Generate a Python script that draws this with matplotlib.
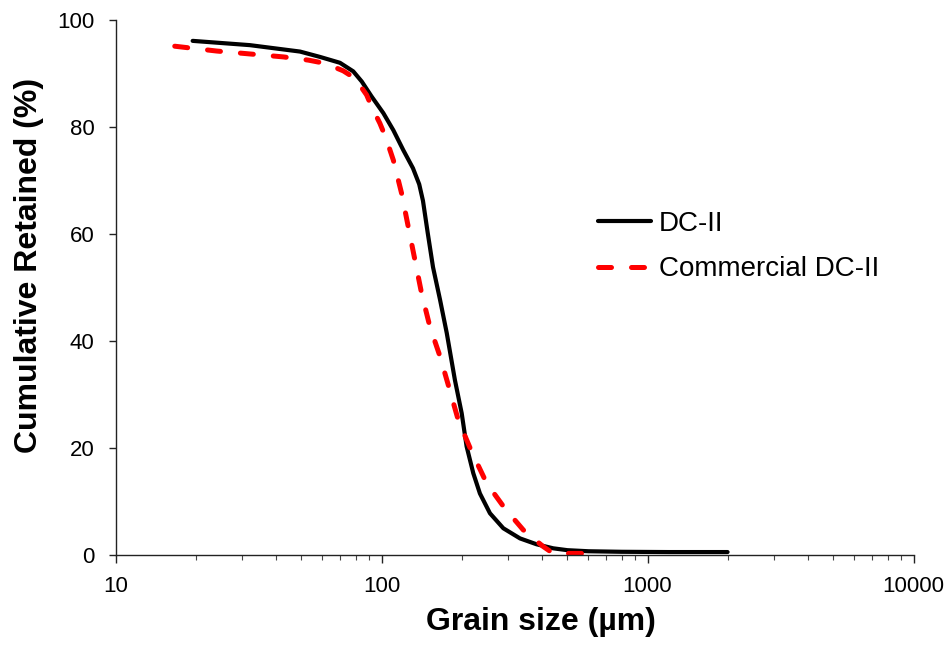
import matplotlib
matplotlib.use("Agg")
import matplotlib.pyplot as plt
from matplotlib.ticker import LogLocator, FixedLocator, NullFormatter

plt.rcParams['font.family'] = ['Liberation Sans', 'DejaVu Sans']

# DC-II (grain size in µm, cumulative retained %)
dc_size = [19.5, 32.0, 49.4, 58.7, 69.8, 78.3, 84.3, 91.8, 101.6, 110.8, 120.7, 131.3,
           138.6, 143.2, 149.2, 156.2, 166, 175.9, 188.8, 200.2, 208.9, 221.3, 234.4,
           255.7, 287, 331.7, 383, 442, 500, 600, 800, 1200, 2000]
dc_ret = [96.1, 95.3, 94.1, 93.1, 92.0, 90.4, 88.5, 85.7, 82.6, 79.4, 75.7, 72.3,
          69.3, 66.2, 60.2, 53.8, 47.7, 41.5, 32.7, 26.5, 20.3, 15.3, 11.5,
          7.8, 5.0, 3.1, 2.0, 1.25, 0.9, 0.7, 0.6, 0.55, 0.55]

# Commercial DC-II
com_size = [16.7, 24.0, 42.8, 53.1, 61.3, 71.8, 79.5, 87.9, 91.8, 98.6, 104, 110.8,
            119, 126, 133.6, 141.5, 152, 166, 178.2, 194.4, 218.3, 248.6, 291, 341,
            405, 442, 644]
com_ret = [95.1, 94.2, 93.1, 92.5, 91.9, 90.5, 89.1, 86.0, 83.8, 80.7, 77.9, 73.8,
           67.6, 61.4, 55.1, 48.9, 42.7, 37.1, 31.8, 25.2, 19.3, 13.4, 8.7, 4.7,
           1.6, 0.3, 0.3]

labels = ["DC-II", "Commercial DC-II"]
y_ticks = [0, 20, 40, 60, 80, 100]
x_ticks = [10, 100, 1000, 10000]
x_ticklabels = ["10", "100", "1000", "10000"]

fig = plt.figure(figsize=(9.52, 6.53), dpi=100)
ax = fig.add_axes([115.5 / 952, (653 - 555) / 653, (913.5 - 115.5) / 952, 535 / 653])

ax.plot(dc_size, dc_ret, color='black', lw=3.0, solid_capstyle='round',
        solid_joinstyle='round', label=labels[0])
ax.plot(com_size, com_ret, color='#ff0000', lw=3.6, dashes=(2.6, 4.0),
        dash_capstyle='round', dash_joinstyle='round', label=labels[1])

ax.set_xscale('log')
ax.set_xlim(10, 10000)
ax.set_ylim(0, 100)
ax.xaxis.set_major_locator(FixedLocator(x_ticks))
ax.set_xticklabels(x_ticklabels)
ax.xaxis.set_minor_locator(LogLocator(base=10, subs=range(2, 10)))
ax.xaxis.set_minor_formatter(NullFormatter())
ax.set_yticks(y_ticks)

for s in ['top', 'right']:
    ax.spines[s].set_visible(False)
for s in ['left', 'bottom']:
    ax.spines[s].set_linewidth(1.0)
    ax.spines[s].set_color('#222222')

ax.tick_params(axis='x', which='major', direction='out', length=6, width=1,
               color='#222222', labelsize=16, pad=9)
ax.tick_params(axis='x', which='minor', direction='out', length=3.5, width=0.8,
               color='#444444')
ax.tick_params(axis='y', which='major', direction='out', length=5, width=1,
               color='#222222', labelsize=16, pad=10)

ax.set_xlabel("Grain size (µm)", fontsize=23, fontweight='bold')
ax.xaxis.set_label_coords(0.533, -0.125)
ax.xaxis.label.set_va('center')
ax.set_ylabel("Cumulative Retained (%)", fontsize=23, fontweight='bold')
ax.yaxis.set_label_coords(-0.108, 0.542)
ax.yaxis.label.set_va('center')

ax.legend(loc='center left', bbox_to_anchor=(0.6047, 0.5766), frameon=False,
          fontsize=20, handlelength=1.9, handletextpad=0.28, labelspacing=0.7,
          borderpad=0, borderaxespad=0)

fig.savefig("out.png", dpi=100)
